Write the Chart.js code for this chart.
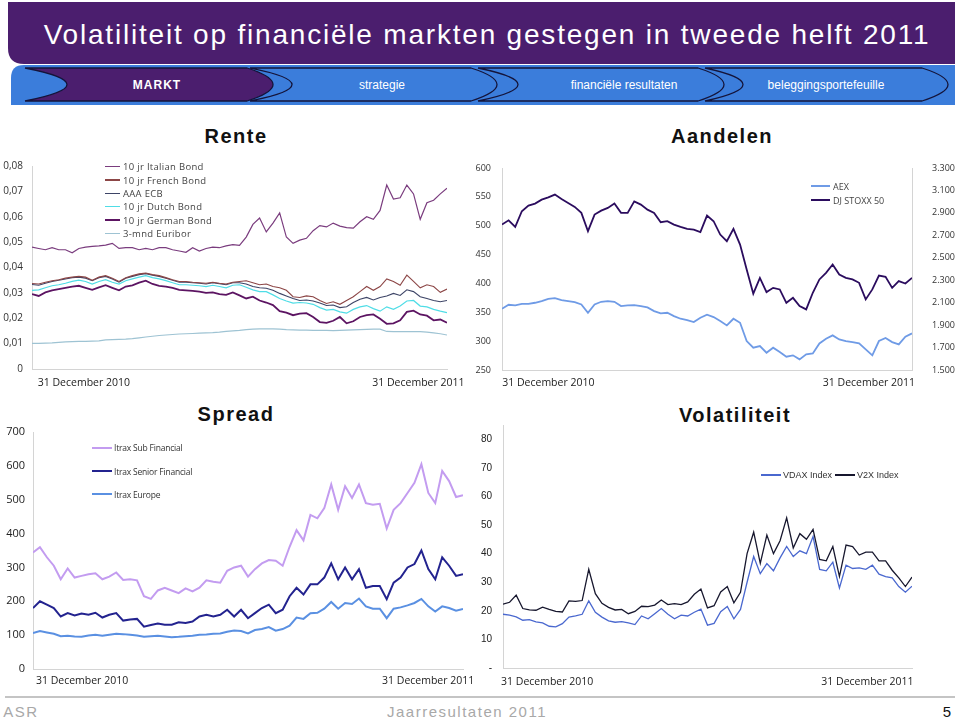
<!DOCTYPE html>
<html><head><meta charset="utf-8">
<script src="https://cdn.jsdelivr.net/npm/chart.js@4.4.1/dist/chart.umd.min.js"></script>
<style>
html,body{margin:0;padding:0;background:#fff}
body{width:960px;height:719px;overflow:hidden;position:relative;font-family:"Liberation Sans",Arial,sans-serif}
canvas{position:absolute}
.t{position:absolute;white-space:nowrap;transform:translate(-50%,-50%)}
.ttl{font-weight:bold;font-size:20px;letter-spacing:1.5px;color:#111}
.nav{font-size:12px;color:#fff}
.lg{position:absolute;white-space:nowrap}
.lg .row{display:flex;align-items:center}
.lg .ln{display:inline-block}
</style>
</head><body>
<svg style="position:absolute;left:0;top:0" width="960" height="110">
  <path d="M8,2 H955 V64 H24 Q8,64 8,48 Z" fill="#4b1e6e"/>
  <path d="M11,78 Q11,65 24,65 H955 V105 H11 Z" fill="#3b7ddb"/>
  <path d="M705,68 Q781,84.5 705,101 L922,101 Q974,84.5 922,68 Z" fill="none" stroke="#14143a" stroke-width="1.3"/>
  <path d="M478,68 Q558,84.5 478,101 L698,101 Q750,84.5 698,68 Z" fill="none" stroke="#14143a" stroke-width="1.3"/>
  <path d="M250,68 Q334,84.5 250,101 L471,101 Q523,84.5 471,68 Z" fill="none" stroke="#14143a" stroke-width="1.3"/>
  <path d="M25,68 Q109,84.5 25,101 L247,101 Q299,84.5 247,68 Z" fill="#4b1e6e" stroke="#14143a" stroke-width="1.3"/>
</svg>
<div class="t" style="left:487px;top:35px;font-size:28px;color:#fff;letter-spacing:1.8px">Volatiliteit op financiële markten gestegen in tweede helft 2011</div>
<div class="t nav" style="left:157px;top:85px;font-weight:bold;letter-spacing:1px">MARKT</div>
<div class="t nav" style="left:382px;top:85px">strategie</div>
<div class="t nav" style="left:624px;top:85px">financiële resultaten</div>
<div class="t nav" style="left:826px;top:85px">beleggingsportefeuille</div>

<div class="t ttl" style="left:236px;top:136px">Rente</div>
<div class="t ttl" style="left:722px;top:136px">Aandelen</div>
<div class="t ttl" style="left:236px;top:414px">Spread</div>
<div class="t ttl" style="left:735px;top:415px">Volatiliteit</div>

<div style="position:absolute;left:5px;top:696px;width:950px;height:2px;background:#c4c4c4"></div>
<div class="t" style="left:21px;top:711px;font-size:15px;color:#a8a8a8;letter-spacing:1.5px">ASR</div>
<div class="t" style="left:467px;top:711px;font-size:15px;color:#a8a8a8;letter-spacing:1.5px">Jaarresultaten 2011</div>
<div class="t" style="left:947px;top:711px;font-size:15px;color:#111">5</div>

<script>
// ---------- shared ----------
const X_LABELS = ['31 December 2010', '31 December 2011'];

// ---------- Rente ----------
const RENTE_NAMES = ['10 jr Italian Bond','10 jr French Bond','AAA ECB','10 jr Dutch Bond','10 jr German Bond','3-mnd Euribor'];
const ITALIAN = [0.048,0.0475,0.047,0.0478,0.047,0.047,0.0458,0.0475,0.048,0.0483,0.0485,0.0488,0.0495,0.0475,0.0478,0.0478,0.047,0.0475,0.047,0.0478,0.0478,0.047,0.0465,0.046,0.0478,0.0465,0.0475,0.048,0.0478,0.0485,0.049,0.0487,0.052,0.057,0.0595,0.054,0.0575,0.0615,0.052,0.0495,0.0508,0.0515,0.0545,0.0565,0.056,0.0575,0.0563,0.0557,0.0555,0.058,0.06,0.059,0.0625,0.0725,0.067,0.0675,0.0725,0.069,0.059,0.0655,0.0665,0.069,0.0712];
const FRENCH = [0.0337,0.0335,0.0342,0.0348,0.0352,0.0358,0.0362,0.0365,0.0362,0.035,0.0362,0.0368,0.0358,0.0345,0.036,0.0368,0.0375,0.0378,0.0372,0.0368,0.036,0.0352,0.0345,0.0345,0.0342,0.034,0.0338,0.0342,0.0338,0.0335,0.0342,0.0345,0.0348,0.034,0.0332,0.0335,0.0325,0.032,0.031,0.0285,0.0282,0.0288,0.0285,0.027,0.0258,0.0265,0.0255,0.027,0.0285,0.0305,0.0325,0.031,0.0325,0.0355,0.0345,0.033,0.037,0.0345,0.032,0.0332,0.0325,0.0302,0.0315];
const AAA_ECB = [0.0333,0.033,0.0338,0.0345,0.035,0.0355,0.036,0.0362,0.0358,0.0348,0.036,0.0365,0.0355,0.0342,0.0358,0.0365,0.0372,0.0376,0.037,0.0365,0.0358,0.035,0.0342,0.0342,0.034,0.0338,0.0335,0.034,0.0336,0.0332,0.034,0.034,0.0335,0.0325,0.032,0.0318,0.031,0.0298,0.0288,0.0278,0.027,0.0272,0.0268,0.026,0.025,0.0252,0.0242,0.0245,0.0262,0.0275,0.0282,0.0272,0.0282,0.0288,0.0298,0.029,0.0312,0.0305,0.0285,0.0278,0.027,0.0265,0.027];
const DUTCH = [0.031,0.0312,0.032,0.0328,0.0332,0.0338,0.0345,0.035,0.0345,0.0335,0.0345,0.0352,0.0342,0.0335,0.0348,0.0355,0.0362,0.0368,0.036,0.0355,0.0348,0.034,0.0332,0.0332,0.033,0.0328,0.0325,0.033,0.0325,0.032,0.033,0.0332,0.0322,0.0312,0.0305,0.0305,0.0292,0.0278,0.0268,0.026,0.0262,0.026,0.0255,0.0242,0.0232,0.0235,0.0225,0.022,0.0235,0.0245,0.025,0.0238,0.0228,0.0245,0.0235,0.0248,0.0268,0.027,0.0248,0.0245,0.0235,0.0228,0.0222];
const GERMAN = [0.0295,0.0288,0.0302,0.031,0.0315,0.032,0.0325,0.0328,0.032,0.0312,0.0322,0.033,0.032,0.031,0.0325,0.033,0.034,0.0348,0.0335,0.0328,0.0325,0.032,0.0312,0.031,0.0308,0.0305,0.03,0.0302,0.0295,0.0292,0.0302,0.029,0.0278,0.0285,0.027,0.0262,0.0252,0.0228,0.0222,0.0212,0.0218,0.022,0.0205,0.0185,0.0182,0.019,0.0205,0.018,0.0188,0.0205,0.0212,0.0215,0.0198,0.0178,0.018,0.0192,0.0225,0.023,0.0215,0.021,0.0192,0.0195,0.0182];
const EURIBOR = [0.0101,0.0101,0.0102,0.0103,0.0105,0.0107,0.0108,0.0109,0.0109,0.011,0.0111,0.0115,0.0116,0.0117,0.0118,0.012,0.0123,0.0126,0.0129,0.0132,0.0134,0.0136,0.0138,0.0139,0.014,0.0141,0.0142,0.0143,0.0145,0.0148,0.015,0.0152,0.0155,0.0157,0.0158,0.0158,0.0158,0.0157,0.0155,0.0154,0.0153,0.0153,0.0152,0.0152,0.0152,0.0151,0.0152,0.0153,0.0154,0.0155,0.0156,0.0157,0.0157,0.0148,0.0147,0.0147,0.0147,0.0147,0.0147,0.0145,0.0142,0.0139,0.0134];

// ---------- Aandelen ----------
const AANDELEN_NAMES = ['AEX','DJ STOXX 50'];
const AEX = [356.1,363,361.9,364.7,364.7,366.5,369.4,373.4,374.5,371.1,369.4,367.6,363.6,349.2,363.6,368.2,369.4,368.2,360.7,361.9,362.4,360.7,358.4,352.1,348.1,349.2,343.4,338.8,336.5,333,340.5,345.7,341.7,334.8,327.3,338.8,331.9,300.2,288.6,291.5,280,288.6,281.1,273.1,275.4,268.4,277.1,278.8,296.1,304.2,310,303,300.2,298.4,296.1,285.7,275.4,300.2,305.4,298.4,294.4,307.7,313.4];
const DJSTOXX = [2796,2834,2775,2915,2965,2983,3018,3039,3063,3024,2989,2953,2900,2737,2885,2920,2944,2983,2900,2900,3003,2974,2929,2900,2817,2826,2796,2775,2757,2751,2728,2876,2826,2707,2648,2757,2618,2396,2180,2321,2194,2232,2218,2099,2143,2069,2040,2188,2307,2366,2440,2351,2321,2307,2277,2129,2218,2342,2330,2232,2292,2271,2321];

// ---------- Spread ----------
const SPREAD_NAMES = ['Itrax Sub Financial','Itrax Senior Financial','Itrax Europe'];
const SUB_FIN = [344,360,330,305,265,297,270,275,280,283,265,273,285,263,265,262,215,207,232,240,232,224,238,229,240,262,258,255,290,300,305,273,295,312,322,320,305,361,410,380,455,445,475,545,470,540,505,545,490,485,488,415,470,490,520,550,605,520,490,585,555,508,513];
const SENIOR_FIN = [180,200,190,180,155,165,158,164,160,166,152,160,165,143,146,148,125,130,134,131,131,138,136,140,155,160,155,160,175,155,175,150,165,180,190,165,175,215,240,220,250,250,270,312,265,300,265,295,240,245,245,206,255,270,300,310,350,295,265,330,305,275,280];
const EUROPE = [106,112,108,104,97,98,96,95,99,101,98,101,104,103,101,99,95,97,98,96,94,95,97,98,101,102,104,105,110,114,112,105,115,118,124,113,118,128,152,148,165,166,178,198,178,195,192,208,185,178,178,150,178,182,188,195,207,185,170,185,180,172,177];

// ---------- Volatiliteit ----------
const VOL_NAMES = ['VDAX Index','V2X Index'];
const VDAX = [18.8,18.5,17.9,16.7,16.9,16.1,15.8,14.6,14.4,15.5,17.8,18.2,18.8,23.5,19.5,17.8,16.5,16,16.2,15.8,15.2,18.2,17.2,19,20.8,18.8,17.2,18.5,18.2,19.5,20.6,15,15.6,19.7,21.5,17.2,20.5,30,39,33,36.5,34,38.5,42.5,39,41,40,46,34.5,34,37,28,36,34.8,35,34.5,36,32.8,32,31.5,28.5,26.5,28.6];
const V2X = [22.3,23,25.5,20.8,20.3,20.2,21.3,20.5,19.8,19.6,23.5,23.3,23.6,34.5,26,22.6,21.2,20.3,20.5,19,19.8,21.6,21.5,22,23.8,22.2,22.5,22.2,23.1,25.8,27.6,21,21.8,26.6,28.5,22.8,26.5,40,47.5,36.6,46.5,40,44.5,52.5,42,47,45,48.5,38,37.5,42.5,32,43,42.5,39.5,40.5,40.5,37.5,37.5,34.2,31.5,28.5,31.8];

// ---------- helpers ----------
const AXIS = '#d4d4d4';
const HUM = '"Open Sans", "Noto Sans", sans-serif';
const ARIAL = '"Liberation Sans", Arial, sans-serif';

function makeChart(c) {
  const {box, plot, series, axes, labelAt, xFont, xPad} = c;
  const n = Math.max(...series.map(s => s.data.length));
  const idx = Array.from({length: n}, (_, i) => i);
  const cv = document.createElement('canvas');
  cv.width = box.w; cv.height = box.h;
  cv.style.left = box.l + 'px'; cv.style.top = box.t + 'px';
  document.body.appendChild(cv);
  const scales = {
    x: {
      type: 'linear', min: 0, max: n - 1,
      grid: {display: false, drawTicks: false},
      border: {display: true, color: AXIS, width: 1},
      ticks: {padding: xPad, font: xFont, color: '#222', maxRotation: 0, autoSkip: false,
              callback: (v, i) => X_LABELS[i]},
      afterBuildTicks: s => { s.ticks = labelAt.map(f => ({value: f * (n - 1)})); },
      afterFit: s => { s.height = box.t + box.h - plot.b; s.paddingLeft = 0; s.paddingRight = 0; }
    }
  };
  let hasRight = false;
  axes.forEach(a => {
    if (a.pos === 'right') hasRight = true;
    scales[a.id] = {
      type: 'linear', position: a.pos, min: a.min, max: a.max,
      grid: {display: false, drawTicks: false},
      border: {display: true, color: AXIS, width: 1},
      ticks: {stepSize: a.step, padding: a.pad, font: a.font, color: a.color || '#333',
              crossAlign: 'near', callback: a.fmt, autoSkip: false},
      afterBuildTicks: s => { if (a.top !== undefined) s.ticks = s.ticks.filter(t => t.value <= a.top + 1e-9); },
      afterFit: s => {
        s.width = a.pos === 'left' ? plot.l - box.l : box.l + box.w - plot.r;
        s.paddingTop = 0; s.paddingBottom = 0;
      }
    };
  });
  new Chart(cv, {
    type: 'line',
    data: {
      labels: idx,
      datasets: series.map(s => ({
        label: s.name, data: s.data, yAxisID: s.axis || 'y',
        borderColor: s.color, backgroundColor: s.color, borderWidth: s.w || 1.2,
        pointRadius: 0, tension: 0, fill: false
      }))
    },
    options: {
      responsive: false, animation: false, devicePixelRatio: 1,
      layout: {padding: {top: plot.t - box.t, right: hasRight ? 0 : box.l + box.w - plot.r, left: 0, bottom: 0}},
      plugins: {legend: {display: false}, tooltip: {enabled: false}},
      scales
    }
  });
}

function makeLegend(items, L) {
  const d = document.createElement('div');
  d.className = 'lg';
  d.style.left = L.x + 'px';
  d.style.top = (L.y - L.dy / 2) + 'px';
  d.style.font = L.font;
  d.style.color = L.color;
  if (L.spacing) d.style.letterSpacing = L.spacing;
  if (L.horizontal) { d.style.display = 'flex'; }
  items.forEach(it => {
    const r = document.createElement('div');
    r.className = 'row';
    r.style.height = L.dy + 'px';
    if (L.horizontal) r.style.marginRight = L.itemGap + 'px';
    const ln = document.createElement('span');
    ln.className = 'ln';
    ln.style.width = L.lw + 'px';
    ln.style.height = (it.w || 1.2) + 'px';
    ln.style.background = it.color;
    ln.style.marginRight = L.gap + 'px';
    const tx = document.createElement('span');
    tx.textContent = it.name;
    r.appendChild(ln); r.appendChild(tx);
    d.appendChild(r);
  });
  document.body.appendChild(d);
}

// ---------- Rente chart ----------
const renteSeries = [
  {name: RENTE_NAMES[4], data: GERMAN, color: '#5c1462', w: 1.8},
  {name: RENTE_NAMES[0], data: ITALIAN, color: '#7a3c7e', w: 1.2},
  {name: RENTE_NAMES[1], data: FRENCH, color: '#8c4646', w: 1.1},
  {name: RENTE_NAMES[2], data: AAA_ECB, color: '#3d4466', w: 1.1},
  {name: RENTE_NAMES[3], data: DUTCH, color: '#4fdde6', w: 1.2},
  {name: RENTE_NAMES[5], data: EURIBOR, color: '#9ec3d3', w: 1.2}
];
makeChart({
  box: {l: 0, t: 150, w: 470, h: 246}, plot: {l: 32, t: 166, r: 447, b: 369},
  series: renteSeries, labelAt: [0.125, 0.931], xFont: {family: HUM, size: 10.5}, xPad: 8,
  axes: [{id: 'y', pos: 'left', min: 0, max: 0.08, step: 0.01, pad: 9, font: {family: HUM, size: 10},
          fmt: v => v === 0 ? '0' : v.toFixed(2).replace('.', ',')}]
});
makeLegend(RENTE_NAMES.map(nm => renteSeries.find(s => s.name === nm)),
  {x: 105, y: 166.7, dy: 13.35, lw: 15, gap: 3, font: '9.5px ' + HUM, color: '#444', spacing: '0.3px'});

// ---------- Aandelen chart ----------
const aandelenSeries = [
  {name: AANDELEN_NAMES[0], data: AEX, color: '#6f9be6', w: 1.8, axis: 'y'},
  {name: AANDELEN_NAMES[1], data: DJSTOXX, color: '#2b0c5e', w: 1.8, axis: 'y1'}
];
makeChart({
  box: {l: 470, t: 150, w: 490, h: 246}, plot: {l: 502, t: 168, r: 912, b: 370},
  series: aandelenSeries, labelAt: [0.113, 0.895], xFont: {family: HUM, size: 10.5}, xPad: 7,
  axes: [
    {id: 'y', pos: 'left', min: 250, max: 600, step: 50, pad: 11, font: {family: HUM, size: 9}, fmt: v => String(v)},
    {id: 'y1', pos: 'right', min: 1500, max: 3300, step: 200, pad: 20, font: {family: HUM, size: 9}, fmt: v => (v / 1000).toFixed(3)}
  ]
});
makeLegend(aandelenSeries, {x: 811, y: 186, dy: 14, lw: 19, gap: 3, font: '9px ' + HUM, color: '#444'});

// ---------- Spread chart ----------
const spreadSeries = [
  {name: SPREAD_NAMES[0], data: SUB_FIN, color: '#c39cf0', w: 2},
  {name: SPREAD_NAMES[1], data: SENIOR_FIN, color: '#23238f', w: 2},
  {name: SPREAD_NAMES[2], data: EUROPE, color: '#5a90e2', w: 2}
];
makeChart({
  box: {l: 0, t: 420, w: 480, h: 272}, plot: {l: 33, t: 432, r: 463, b: 669},
  series: spreadSeries, labelAt: [0.114, 0.919], xFont: {family: HUM, size: 10.5}, xPad: 6,
  axes: [{id: 'y', pos: 'left', min: 0, max: 700, step: 100, pad: 8, font: {family: HUM, size: 11}, color: '#222', fmt: v => String(v)}]
});
makeLegend(spreadSeries, {x: 92, y: 448, dy: 23.2, lw: 20, gap: 2, font: '8.5px ' + HUM, color: '#333', spacing: '-0.2px'});

// ---------- Volatiliteit chart ----------
const volSeries = [
  {name: VOL_NAMES[1], data: V2X, color: '#17172e', w: 1.3},
  {name: VOL_NAMES[0], data: VDAX, color: '#4a68cf', w: 1.3}
];
makeChart({
  box: {l: 470, t: 415, w: 490, h: 277}, plot: {l: 503, t: 425, r: 912, b: 668},
  series: volSeries, labelAt: [0.108, 0.891], xFont: {family: HUM, size: 10.5}, xPad: 8,
  axes: [{id: 'y', pos: 'left', min: 0, max: 85, top: 80, step: 10, pad: 11, font: {family: ARIAL, size: 10}, color: '#222',
          fmt: v => v === 0 ? '-' : String(v)}]
});
makeLegend([volSeries[1], volSeries[0]], {x: 761, y: 475, dy: 12, lw: 20, gap: 2, font: '9px ' + ARIAL, color: '#333', horizontal: true, itemGap: 3});
</script>
</body></html>
